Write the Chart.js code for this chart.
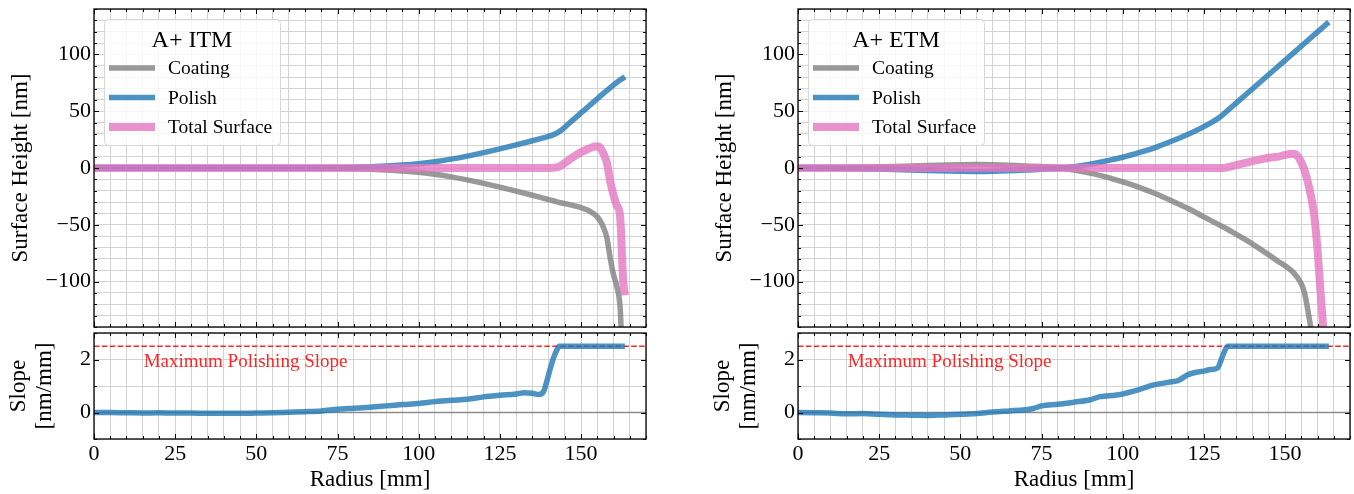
<!DOCTYPE html>
<html>
<head>
<meta charset="utf-8">
<script src="https://cdn.jsdelivr.net/npm/chart.js@4.4.1/dist/chart.umd.min.js"></script>
<style>
  body { margin: 0; background: #fff; width: 1354px; height: 494px; position: relative; overflow: hidden; }
  canvas { position: absolute; }
</style>
</head>
<body>
<canvas id="itmTop" width="660" height="330" style="left:0px;top:0px"></canvas>
<canvas id="itmSlope" width="660" height="164" style="left:0px;top:330px"></canvas>
<canvas id="etmTop" width="650" height="330" style="left:704px;top:0px"></canvas>
<canvas id="etmSlope" width="650" height="164" style="left:704px;top:330px"></canvas>
<script>
// surface height, A+ ITM (nm vs mm)
const itmRadius = [0, 10, 20, 30, 40, 50, 60, 70, 80, 85, 90, 95, 100, 105, 110, 115, 120, 125, 130, 135, 138, 140, 142, 144, 146, 148, 150, 152, 154, 155, 156, 157, 158, 159, 160, 161, 162, 163, 163.5];
const itmCoating = [0, 0, 0, 0, 0, 0, 0, -0.1, -0.5, -1.0, -1.7, -2.6, -3.8, -5.5, -7.8, -10.5, -13.5, -16.8, -20.3, -24, -26.3, -27.8, -29.3, -30.8, -32, -33.3, -34.8, -37, -40.5, -43, -47, -53, -62, -80, -94, -104, -122, -180, -192];
const itmPolish = [0, 0, 0, 0, 0, 0, 0, 0.1, 0.5, 1.0, 1.7, 2.6, 3.8, 5.5, 7.8, 10.5, 13.5, 16.8, 20.3, 24, 26.3, 27.8, 30, 33.5, 38.5, 43.5, 48.5, 53.5, 58.5, 61, 63.5, 66, 68.3, 70.7, 73, 75.3, 77.5, 79.3, 80.3];
const itmTotal = [0, 0, 0, 0, 0, 0, 0, 0, 0, 0, 0, 0, 0, 0, 0, 0, 0, 0, 0, 0, 0, 0, 0.3, 2.5, 6.5, 10.5, 14, 16.5, 18.8, 19.2, 17.5, 12, 4, -12, -24, -33, -42, -100, -112];

// surface height, A+ ETM
const etmRadius = [0, 10, 20, 30, 40, 50, 55, 60, 70, 80, 85, 90, 95, 100, 105, 110, 115, 120, 125, 130, 132, 135, 140, 145, 148, 150, 152, 153, 154, 155, 156, 157, 158, 159, 160, 161, 162, 163, 163.5];
const etmCoating = [0, 0.2, 0.6, 1.3, 2.2, 2.9, 3.1, 2.9, 1.8, 0.2, -1.8, -4.5, -8, -12.3, -17, -22.5, -28.8, -35.5, -43, -50.5, -53.5, -58.5, -67, -76.5, -82.5, -86, -90.5, -93.5, -97, -102, -110, -125, -142, -162, -182, -200, -215, -228, -235];
const etmPolish = [0, -0.2, -0.6, -1.3, -2.2, -2.9, -3.1, -2.9, -1.8, -0.2, 1.2, 3.3, 6.3, 9.5, 13.5, 18, 23.5, 29.5, 36.5, 45, 49.8, 57.3, 69.8, 82.3, 89.8, 94.8, 99.8, 102.3, 104.8, 107.3, 109.8, 112.3, 114.8, 117.3, 119.8, 122.3, 124.8, 127.3, 128.5];
const etmTotal = [0, 0, 0, 0, 0, 0, 0, 0, 0, 0, 0, 0, 0, 0, 0, 0, 0, 0, 0, 0, 0.5, 2.5, 6, 9, 10, 11.5, 12.5, 12.3, 10, 5, -2, -12, -25, -42, -72, -112, -150, -185, -200];

// polishing slope (nm/mm)
const itmSlopeRadius = [0, 5, 10, 15, 20, 25, 30, 35, 40, 45, 50, 55, 60, 65, 70, 75, 80, 85, 90, 95, 100, 105, 110, 115, 120, 125, 130, 132.5, 135, 137, 138.5, 139.5, 140.5, 141.5, 142.5, 143.3, 145, 150, 155, 160, 163.5];
const itmSlope = [0, 0, -0.01, -0.02, -0.01, -0.02, -0.02, -0.03, -0.03, -0.03, -0.02, -0.01, 0.01, 0.03, 0.06, 0.12, 0.16, 0.2, 0.25, 0.3, 0.34, 0.41, 0.46, 0.5, 0.59, 0.65, 0.7, 0.75, 0.73, 0.68, 0.8, 1.2, 1.65, 2.05, 2.35, 2.5, 2.5, 2.5, 2.5, 2.5, 2.5];
const etmSlopeRadius = [0, 5, 10, 15, 20, 25, 30, 35, 40, 45, 50, 55, 60, 65, 70, 72.5, 75, 80, 85, 90, 93, 95, 100, 105, 108, 110, 115, 117, 120, 122, 125, 127, 129.2, 130.5, 131.5, 132.4, 135, 140, 150, 160, 163.5];
const etmSlope = [0, -0.01, -0.02, -0.05, -0.04, -0.07, -0.09, -0.1, -0.11, -0.09, -0.07, -0.04, 0.02, 0.06, 0.1, 0.15, 0.25, 0.31, 0.39, 0.48, 0.6, 0.62, 0.7, 0.86, 0.99, 1.05, 1.16, 1.2, 1.42, 1.5, 1.56, 1.62, 1.68, 2.05, 2.35, 2.5, 2.5, 2.5, 2.5, 2.5, 2.5];

const maxSlope = 2.5;
const xTicks = [0, 25, 50, 75, 100, 125, 150];

const serif = "'Liberation Serif', 'Times New Roman', serif";
Chart.defaults.font.family = serif;
Chart.defaults.color = '#000';

const gray = 'rgba(127,127,127,0.8)';
const blue = 'rgba(31,119,180,0.8)';
const pink = 'rgba(227,119,194,0.8)';
const red = 'rgba(255,0,0,0.85)';

function pts(xs, ys) {
  return xs.map((x, i) => ({ x: x, y: ys[i] }));
}

function fmt(v) {
  return v < 0 ? '\u2212' + Math.abs(v) : String(v);
}

// inward ticks on all four sides plus the black frame
const frame = {
  id: 'frame',
  afterDraw(chart, args, o) {
    const { ctx, chartArea: a } = chart;
    const x = chart.scales.x, y = chart.scales.y;
    ctx.save();
    ctx.strokeStyle = '#000';
    ctx.lineWidth = 1;
    ctx.beginPath();
    for (let v = x.min; v <= x.max + 1e-6; v += o.xMinor) {
      const px = Math.round(x.getPixelForValue(v)) + 0.5;
      const len = Math.abs(v % o.xMajor) < 1e-6 ? 5 : 3;
      ctx.moveTo(px, a.bottom); ctx.lineTo(px, a.bottom - len);
      ctx.moveTo(px, a.top); ctx.lineTo(px, a.top + len);
    }
    for (let v = y.min; v <= y.max + 1e-6; v += o.yMinor) {
      const py = Math.round(y.getPixelForValue(v)) + 0.5;
      const len = Math.abs(v % o.yMajor) < 1e-6 ? 5 : 3;
      ctx.moveTo(a.left, py); ctx.lineTo(a.left + len, py);
      ctx.moveTo(a.right, py); ctx.lineTo(a.right - len, py);
    }
    ctx.stroke();
    ctx.lineWidth = 1.3;
    ctx.strokeRect(a.left, a.top, a.right - a.left, a.bottom - a.top);
    ctx.restore();
  }
};

// framed legend inside the axes, matplotlib style
const boxLegend = {
  id: 'boxLegend',
  afterDatasetsDraw(chart, args, o) {
    if (!o.title) return;
    const { ctx, chartArea: a } = chart;
    const bx = a.left + 10, by = a.top + 10, bw = 176, bh = 126;
    ctx.save();
    ctx.beginPath();
    ctx.roundRect(bx + 0.5, by + 0.5, bw, bh, 4);
    ctx.fillStyle = 'rgba(255,255,255,0.8)';
    ctx.fill();
    ctx.strokeStyle = '#d6d6d6';
    ctx.lineWidth = 1;
    ctx.stroke();
    ctx.fillStyle = '#000';
    ctx.textBaseline = 'middle';
    ctx.textAlign = 'center';
    ctx.font = '24px ' + serif;
    ctx.fillText(o.title, bx + 88, by + 22);
    ctx.textAlign = 'left';
    ctx.font = '19.5px ' + serif;
    const items = chart.data.datasets.filter(d => d.label);
    items.forEach((d, i) => {
      const ly = by + 49 + i * 29.5;
      ctx.strokeStyle = d.borderColor;
      ctx.lineWidth = d.borderWidth;
      ctx.beginPath();
      ctx.moveTo(bx + 5, ly);
      ctx.lineTo(bx + 51, ly);
      ctx.stroke();
      ctx.fillText(d.label, bx + 64, ly + 1);
    });
    ctx.restore();
  }
};

const note = {
  id: 'note',
  afterDatasetsDraw(chart, args, o) {
    if (!o.text) return;
    const { ctx } = chart;
    ctx.save();
    ctx.fillStyle = red;
    ctx.font = '19px ' + serif;
    ctx.textBaseline = 'alphabetic';
    ctx.fillText(o.text, chart.scales.x.getPixelForValue(o.x), chart.scales.y.getPixelForValue(o.y));
    ctx.restore();
  }
};

function line(label, xs, ys, color, width, order, dash) {
  return {
    label: label, data: pts(xs, ys), borderColor: color, borderWidth: width,
    borderDash: dash || [],
    showLine: true, pointRadius: 0, order: order, clip: 0,
    cubicInterpolationMode: 'monotone', borderJoinStyle: 'round', borderCapStyle: 'butt'
  };
}

function makeChart(id, p) {
  return new Chart(document.getElementById(id), {
    type: 'scatter',
    data: { datasets: p.datasets },
    options: {
      responsive: false,
      animation: false,
      devicePixelRatio: 1,
      layout: { padding: { top: p.padTop, right: p.padRight, bottom: p.padBottom, left: 0 } },
      plugins: {
        legend: { display: false },
        tooltip: { enabled: false },
        frame: { xMinor: 5, xMajor: 25, yMinor: p.yMinor, yMajor: p.yMajor },
        boxLegend: { title: p.legendTitle },
        note: p.note || {}
      },
      scales: {
        x: {
          type: 'linear', min: 0, max: 170,
          afterFit: s => { s.height = p.xHeight; s.paddingLeft = 0; s.paddingRight = 0; },
          border: { display: false },
          grid: { color: '#d3d3d3', lineWidth: 1, drawTicks: false },
          ticks: {
            display: p.showX, stepSize: 5, autoSkip: false, maxRotation: 0, padding: 2,
            font: { size: 22 },
            callback: v => xTicks.includes(v) ? String(v) : ''
          },
          title: { display: p.showX, text: 'Radius [mm]', font: { size: 23, lineHeight: 1.2 }, padding: { top: 0, bottom: 0 } }
        },
        y: {
          type: 'linear', min: p.yMin, max: p.yMax,
          afterFit: s => { s.width = 94; s.paddingTop = 0; s.paddingBottom = 0; },
          border: { display: false },
          grid: { color: '#d3d3d3', lineWidth: 1, drawTicks: false },
          ticks: {
            stepSize: p.yMinor, autoSkip: false, padding: 3,
            font: { size: 22 },
            callback: v => Math.abs(v % p.yMajor) < 1e-6 ? fmt(v) : ''
          },
          title: { display: true, text: p.yTitle, font: { size: 23, lineHeight: 1.13 }, padding: { top: p.yTitlePad, bottom: 0 } }
        }
      }
    },
    plugins: [frame, boxLegend, note]
  });
}

function topPanel(id, title, xs, coating, polish, total, padRight) {
  makeChart(id, {
    datasets: [
      line('Coating', xs, coating, gray, 5.5, 2),
      line('Polish', xs, polish, blue, 5.5, 1),
      line('Total Surface', xs, total, pink, 8, 0)
    ],
    legendTitle: title,
    yMin: -140, yMax: 140, yMinor: 10, yMajor: 50,
    yTitle: 'Surface Height [nm]', yTitlePad: 8,
    showX: false, xHeight: 0,
    padTop: 9, padRight: padRight, padBottom: 3
  });
}

function slopePanel(id, xs, slope, padRight) {
  makeChart(id, {
    datasets: [
      line(null, xs, slope, blue, 5.5, 0),
      line(null, [0, 170], [maxSlope, maxSlope], red, 1.5, 1, [5.5, 2.4]),
      line(null, [0, 170], [0, 0], '#8a8a8a', 1.6, 2)
    ],
    yMin: -1, yMax: 3, yMinor: 1, yMajor: 2,
    yTitle: ['Slope', '[nm/mm]'], yTitlePad: 6,
    showX: true, xHeight: 55,
    padTop: 3, padRight: padRight, padBottom: 0,
    note: { text: 'Maximum Polishing Slope', x: 15.3, y: 1.71 }
  });
}

topPanel('itmTop', 'A+ ITM', itmRadius, itmCoating, itmPolish, itmTotal, 14);
topPanel('etmTop', 'A+ ETM', etmRadius, etmCoating, etmPolish, etmTotal, 4);
slopePanel('itmSlope', itmSlopeRadius, itmSlope, 14);
slopePanel('etmSlope', etmSlopeRadius, etmSlope, 4);
</script>
</body>
</html>
